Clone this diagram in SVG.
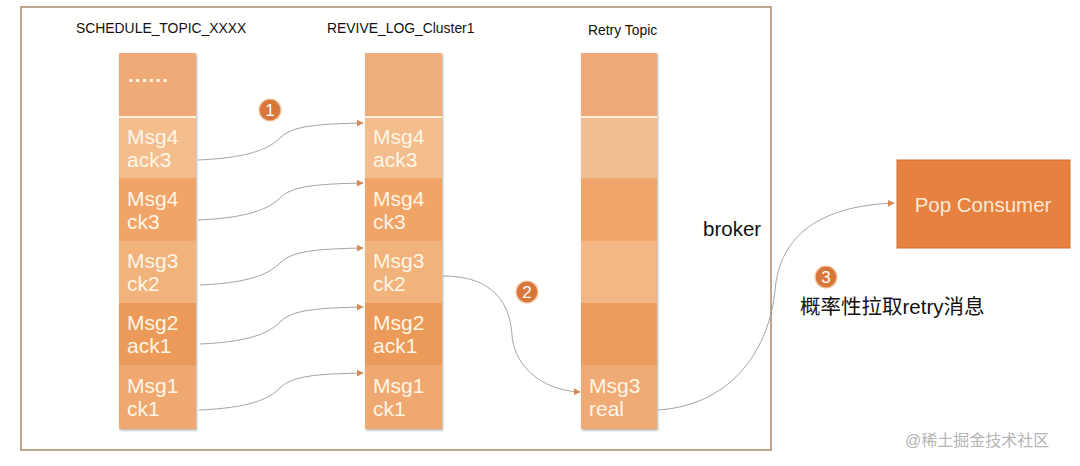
<svg xmlns="http://www.w3.org/2000/svg" width="1080" height="466" viewBox="0 0 1080 466">
<defs>
<style>
.title{font-family:"Liberation Sans",Arial,sans-serif;font-size:13.9px;fill:#111}
.cell{font-family:"Liberation Sans",Arial,sans-serif;font-size:21px;fill:#fff6e6}
.conn{fill:none;stroke:#9a9a9a;stroke-width:0.9}
.badge{fill:#d9773a;stroke:#f3c9a6;stroke-width:1.2}
.btxt{font-family:"Liberation Sans",Arial,sans-serif;font-size:17px;fill:#fff;text-anchor:middle}
.big{font-family:"Liberation Sans","Noto Sans CJK SC",sans-serif;font-size:20.5px;fill:#111}
.sep{stroke:#fdf1dc;stroke-width:2}
</style>
<marker id="ah" viewBox="0 0 10 10" refX="9" refY="5" markerWidth="7" markerHeight="7" markerUnits="userSpaceOnUse" orient="auto">
<path d="M0,0 L10,5 L0,10 z" fill="#d98a52"/>
</marker>
<filter id="sh" x="-10%" y="-5%" width="125%" height="115%">
<feDropShadow dx="1" dy="1.5" stdDeviation="1.2" flood-color="#000" flood-opacity="0.3"/>
</filter>
</defs>
<rect width="1080" height="466" fill="#fff"/>
<g id="broker">
<rect x="21" y="7" width="750" height="443" fill="#fffffd" stroke="#a8896c" stroke-width="1.5"/>
<text class="big" x="703" y="236">broker</text>
</g>
<g id="schedule-topic">
<text class="title" x="76" y="33">SCHEDULE_TOPIC_XXXX</text>
<g filter="url(#sh)">
<rect x="119" y="53" width="77" height="64" fill="#f0aa78"/>
<rect x="119" y="117" width="77" height="61" fill="#f3bd8e"/>
<rect x="119" y="178" width="77" height="63" fill="#f0a468"/>
<rect x="119" y="241" width="77" height="62" fill="#f2b27c"/>
<rect x="119" y="303" width="77" height="62" fill="#eb9a5a"/>
<rect x="119" y="365" width="77" height="64" fill="#efa870"/>
</g>
<line class="sep" x1="119" y1="117" x2="196" y2="117"/>
<text class="cell" x="128" y="82" font-weight="bold" letter-spacing="1">......</text>
<text class="cell" x="127" y="144">Msg4</text><text class="cell" x="127" y="167">ack3</text>
<text class="cell" x="127" y="206">Msg4</text><text class="cell" x="127" y="229">ck3</text>
<text class="cell" x="127" y="268">Msg3</text><text class="cell" x="127" y="291">ck2</text>
<text class="cell" x="127" y="330">Msg2</text><text class="cell" x="127" y="353">ack1</text>
<text class="cell" x="127" y="393">Msg1</text><text class="cell" x="127" y="416">ck1</text>
</g>
<g id="revive-log">
<text class="title" x="327" y="33">REVIVE_LOG_Cluster1</text>
<g filter="url(#sh)">
<rect x="365" y="53" width="77" height="64" fill="#f0ad7c"/>
<rect x="365" y="117" width="77" height="61" fill="#f3bd8e"/>
<rect x="365" y="178" width="77" height="63" fill="#f0a468"/>
<rect x="365" y="241" width="77" height="62" fill="#f2b27c"/>
<rect x="365" y="303" width="77" height="62" fill="#eb9a5a"/>
<rect x="365" y="365" width="77" height="64" fill="#efa870"/>
</g>
<line class="sep" x1="365" y1="117" x2="442" y2="117"/>
<text class="cell" x="373" y="144">Msg4</text><text class="cell" x="373" y="167">ack3</text>
<text class="cell" x="373" y="206">Msg4</text><text class="cell" x="373" y="229">ck3</text>
<text class="cell" x="373" y="268">Msg3</text><text class="cell" x="373" y="291">ck2</text>
<text class="cell" x="373" y="330">Msg2</text><text class="cell" x="373" y="353">ack1</text>
<text class="cell" x="373" y="393">Msg1</text><text class="cell" x="373" y="416">ck1</text>
</g>
<g id="retry-topic">
<text class="title" x="588" y="35">Retry Topic</text>
<g filter="url(#sh)">
<rect x="581" y="53" width="76" height="64" fill="#efaa78"/>
<rect x="581" y="117" width="76" height="61" fill="#f3bf92"/>
<rect x="581" y="178" width="76" height="63" fill="#f0a66a"/>
<rect x="581" y="241" width="76" height="62" fill="#f2b785"/>
<rect x="581" y="303" width="76" height="62" fill="#ec9c5c"/>
<rect x="581" y="365" width="76" height="64" fill="#efaa74"/>
</g>
<line class="sep" x1="581" y1="117" x2="657" y2="117"/>
<text class="cell" x="589" y="393">Msg3</text><text class="cell" x="589" y="416">real</text>
</g>
<g id="pop-consumer">
<rect x="897" y="160" width="173" height="88" fill="#e7813f" stroke="#d36c2d" stroke-width="1"/>
<text x="983" y="212" text-anchor="middle" font-family="'Liberation Sans',Arial,sans-serif" font-size="20.5" fill="#fde9d6">Pop Consumer</text>
</g>
<g id="badges">
<circle class="badge" cx="270" cy="110" r="11"/><text class="btxt" x="270" y="116">1</text>
<circle class="badge" cx="527" cy="292" r="11"/><text class="btxt" x="527" y="298">2</text>
<circle class="badge" cx="826" cy="277" r="11"/><text class="btxt" x="826" y="283">3</text>
</g>
<text class="big" x="800" y="314" font-size="21">概率性拉取retry消息</text>
<g id="connectors">
<path class="conn" marker-end="url(#ah)" d="M198 160 C245 158 268 150 280 138 S 315 124 363 123"/>
<path class="conn" marker-end="url(#ah)" d="M198 220 C245 218 268 210 280 198 S 315 184 363 183"/>
<path class="conn" marker-end="url(#ah)" d="M200 285 C247 283 268 275 280 263 S 315 249 363 248"/>
<path class="conn" marker-end="url(#ah)" d="M200 344 C247 342 268 334 280 322 S 315 308 363 307"/>
<path class="conn" marker-end="url(#ah)" d="M199 410 C247 408 268 400 280 388 S 315 374 363 373"/>
<path class="conn" marker-end="url(#ah)" d="M443 276 C495 276 510 305 512 335 S 540 390 580 392"/>
<path class="conn" marker-end="url(#ah)" d="M658 410 C735 405 770 345 775 290 S 820 206 894 203"/>
</g>
<text x="905" y="446" font-family="'Liberation Sans','Noto Sans CJK SC',sans-serif" font-size="16" fill="#b5b5b5">@稀土掘金技术社区</text>
</svg>
